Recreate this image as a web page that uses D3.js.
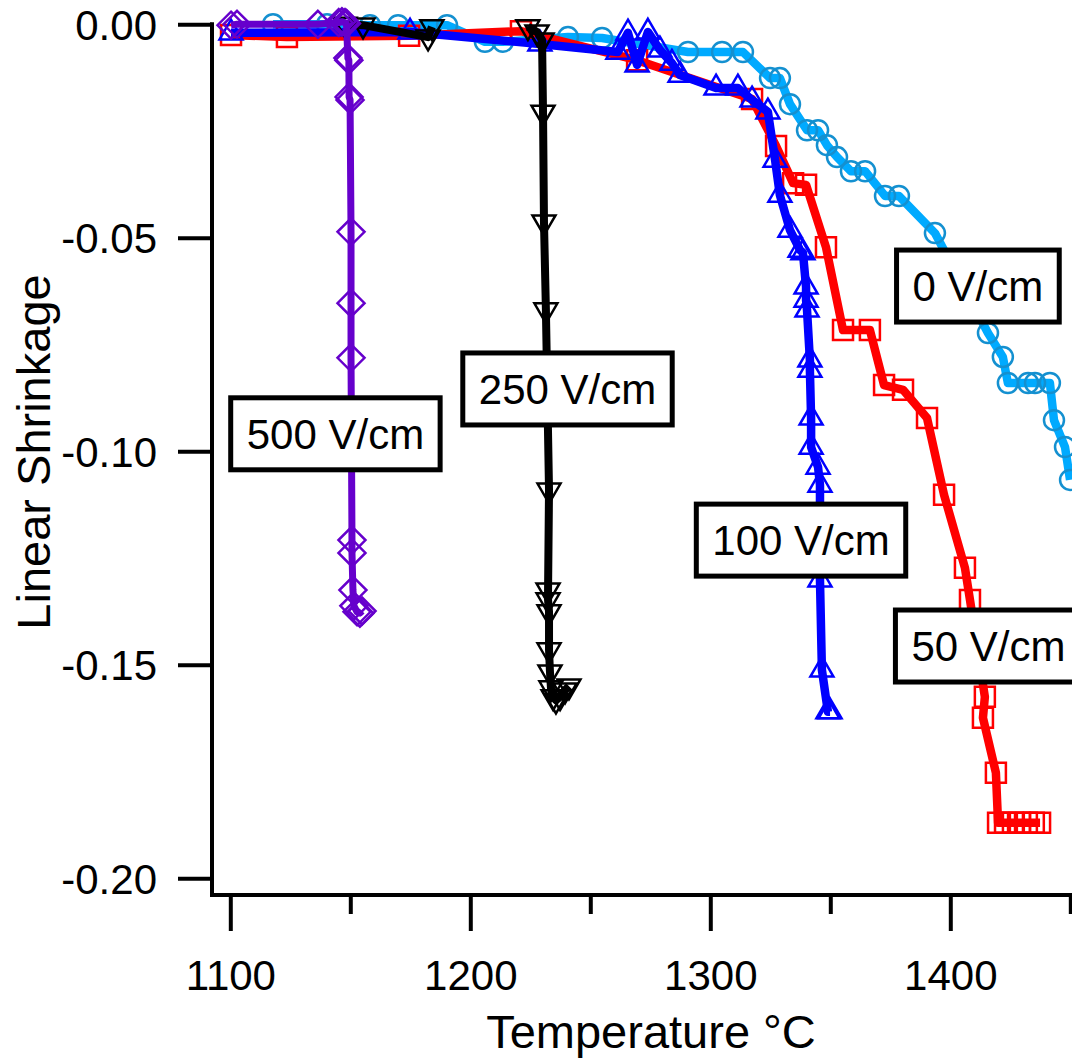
<!DOCTYPE html>
<meta charset="utf-8">
<style>
body { margin: 0; background: #fff; }
svg { display: block; font-family: "Liberation Sans", Arial, sans-serif; }
.axis-line { stroke: #000; stroke-width: 4; }
.tick line { stroke: #000; stroke-width: 4; }
.tick text { font-size: 42px; fill: #000; }
.title { font-size: 47px; fill: #000; }
.series path.line { fill: none; stroke-linejoin: round; stroke-linecap: butt; }
.mark { fill: none; stroke-width: 2.5; }
.label rect { fill: #fff; stroke: #000; stroke-width: 5; }
.label text { font-size: 42px; fill: #000; text-anchor: middle; }
</style>
<svg width="1072" height="1061"></svg>
<script src="https://cdn.jsdelivr.net/npm/d3@7"></script>
<script>

// temperature (°C), linear shrinkage
var v0 = [[1117.8,0],[1140.3,0],[1158.2,-0.0002],[1169.9,-0.0002],[1190.3,-0.0002],[1206.1,-0.0041],[1213.6,-0.0041],
  [1240.7,-0.0030],[1254.9,-0.0032],[1290.7,-0.0065],[1304.9,-0.0065],[1313.6,-0.0065],[1324.9,-0.0126],[1329.0,-0.0126],
  [1333.2,-0.0187],[1340.3,-0.0248],[1344.9,-0.0248],[1348.6,-0.0283],[1352.8,-0.0311],[1358.6,-0.0344],[1364.5,-0.0344],
  [1372.8,-0.0402],[1378.6,-0.0402],[1393.6,-0.0489],[1415.7,-0.0723],[1421.9,-0.0779],[1424.0,-0.0840],[1432.4,-0.0840],
  [1435.3,-0.0840],[1441.5,-0.0840],[1443.2,-0.0927],[1447.8,-0.0990],[1449.9,-0.1067]]

var v50 = [[1100.3,-0.0025],[1123.6,-0.0030],[1174.5,-0.0027],[1221.1,-0.0016],[1269.5,-0.0084],[1317.4,-0.0175],
  [1327.4,-0.0285],[1334.5,-0.0372],[1339.9,-0.0376],[1348.2,-0.0522],[1355.3,-0.0716],[1366.5,-0.0716],[1372.4,-0.0845],
  [1380.3,-0.0856],[1390.3,-0.0922],[1397.4,-0.1102],[1406.1,-0.1273],[1408.2,-0.1348],[1414.4,-0.1575],[1413.6,-0.1624],
  [1419.0,-0.1753],[1419.9,-0.1870],[1422.8,-0.1870],[1426.1,-0.1870],[1429.0,-0.1870],[1431.9,-0.1870],[1434.8,-0.1870],
  [1437.4,-0.1870]]

var v100 = [[1100.3,-0.0020],[1174.9,-0.0018],[1229.0,-0.0046],[1261.5,-0.0065],[1265.7,-0.0020],[1269.5,-0.0095],
  [1274.0,-0.0018],[1279.0,-0.0060],[1284.0,-0.0091],[1287.4,-0.0119],[1302.4,-0.0149],[1311.5,-0.0149],[1317.4,-0.0177],
  [1324.0,-0.0205],[1327.0,-0.0318],[1329.0,-0.0400],[1333.2,-0.0482],[1337.4,-0.0529],[1338.6,-0.0535],[1339.9,-0.0615],
  [1339.9,-0.0646],[1340.3,-0.0669],[1341.5,-0.0786],[1341.5,-0.0810],[1342.0,-0.0922],[1342.0,-0.0990],[1344.9,-0.1037],
  [1345.7,-0.1079],[1345.7,-0.1301],[1346.5,-0.1512],[1349.0,-0.1610],[1349.9,-0.1610]]

var v250 = [[1147.8,0],[1155.3,-0.0002],[1182.4,-0.0030],[1184.0,-0.0006],null,[1224.0,-0.0006],[1227.8,-0.0018],
  [1229.9,-0.0037],[1230.3,-0.0206],[1230.7,-0.0463],[1231.5,-0.0669],[1232.8,-0.1091],[1232.4,-0.1325],[1232.4,-0.1348],
  [1232.8,-0.1376],[1232.8,-0.1465],[1233.2,-0.1517],[1233.6,-0.1554],[1234.5,-0.1575],[1235.7,-0.1583],[1237.4,-0.1575],
  [1239.5,-0.1559],[1241.1,-0.1550]]

var v500 = [[1100.3,-0.0002],[1102.8,0],[1136.5,0],[1145.2,0.0004],[1146.5,0.0006],[1147.8,0.0004],[1148.4,0.0002],
  [1149.0,-0.0079],[1149.4,-0.0084],[1149.5,-0.0170],[1149.9,-0.0177],[1150.3,-0.0486],[1150.3,-0.0653],[1150.3,-0.0781],
  [1150.7,-0.1208],[1150.7,-0.1238],[1151.1,-0.1325],[1151.5,-0.1362],[1152.8,-0.1376],[1154.0,-0.1379],[1154.9,-0.1374]]

var xMajor = [1100, 1200, 1300, 1400]
var xMinor = [1150, 1250, 1350, 1450]
var yTicks = [0, -0.05, -0.10, -0.15, -0.20]

// label text and where its box centre sits (data units)
var labels = [
  {text: "500 V/cm", t: 1143.8, s: -0.0959},
  {text: "250 V/cm", t: 1240.5, s: -0.0854},
  {text: "100 V/cm", t: 1337.8, s: -0.1208},
  {text: "0 V/cm",   t: 1411.5, s: -0.0613},
  {text: "50 V/cm",  t: 1415.9, s: -0.1456}
]

var svg = d3.select("svg")

var x = d3.scaleLinear().domain([1100, 1400]).range([230.3, 950.3])
var y = d3.scaleLinear().domain([0, -0.2]).range([24.3, 878.3])

var axisX = 895, axisY = 212

// axes
svg.append("line").attr("class", "axis-line")
  .attr("x1", axisY - 2).attr("x2", 1072).attr("y1", axisX).attr("y2", axisX)
svg.append("line").attr("class", "axis-line")
  .attr("x1", axisY).attr("x2", axisY).attr("y1", y(0) - 2).attr("y2", axisX)

var gx = svg.append("g").attr("transform", "translate(0," + axisX + ")")
  .call(d3.axisBottom(x).tickValues(xMajor).tickSize(36).tickPadding(29).tickFormat(d3.format("d")))
gx.select(".domain").remove()

var gxm = svg.append("g").attr("transform", "translate(0," + axisX + ")")
  .call(d3.axisBottom(x).tickValues(xMinor).tickSize(19).tickFormat(""))
gxm.select(".domain").remove()

var gy = svg.append("g").attr("transform", "translate(" + axisY + ",0)")
  .call(d3.axisLeft(y).tickValues(yTicks).tickSize(34).tickPadding(21)
    .tickFormat(function(d) { return d.toFixed(2) }))
gy.select(".domain").remove()
gy.selectAll("text").attr("dy", "0.35em")

svg.append("text").attr("class", "title")
  .attr("x", 651).attr("y", 1048).attr("text-anchor", "middle")
  .text("Temperature °C")

svg.append("text").attr("class", "title")
  .attr("transform", "translate(50,452) rotate(-90)").attr("text-anchor", "middle")
  .text("Linear Shrinkage")

// marker shapes, centred on 0,0
var shapes = {
  circle: function() { var r = 10; return "M" + r + ",0A" + r + "," + r + " 0 1,1 " + (-r) + ",0A" + r + "," + r + " 0 1,1 " + r + ",0Z" },
  square: function() { var h = 10; return "M" + -h + "," + -h + "H" + h + "V" + h + "H" + -h + "Z" },
  up: function() { var h = 11.5, k = 6.6; return "M0," + (-2 * k) + "L" + h + "," + k + "L" + -h + "," + k + "Z" },
  down: function() { var h = 11.5, k = 6.6; return "M0," + (2 * k) + "L" + h + "," + -k + "L" + -h + "," + -k + "Z" },
  diamond: function() { var h = 13.5; return "M0," + -h + "L" + h + ",0L0," + h + "L" + -h + ",0Z" }
}

var series = [
  {data: v0,   line: "#00aaff", mark: "#1490d0", width: 8.5, shape: "circle"},
  {data: v50,  line: "#ff0000", mark: "#ff0000", width: 8.5, shape: "square"},
  {data: v100, line: "#0000ff", mark: "#0000ff", width: 8.5, shape: "up"},
  {data: v250, line: "#000000", mark: "#000000", width: 8, shape: "down"},
  {data: v500, line: "#6600cc", mark: "#6600cc", width: 7, shape: "diamond"}
]

var line = d3.line()
  .defined(function(d) { return d !== null })
  .x(function(d) { return x(d[0]) })
  .y(function(d) { return y(d[1]) })

var sg = svg.selectAll(".series").data(series).enter().append("g").attr("class", "series")

sg.append("path").attr("class", "line")
  .attr("d", function(d) { return line(d.data) })
  .attr("stroke", function(d) { return d.line })
  .attr("stroke-width", function(d) { return d.width })

sg.each(function(s) {
  d3.select(this).selectAll(".mark")
    .data(s.data.filter(function(d) { return d !== null }))
    .enter().append("path")
      .attr("class", "mark")
      .attr("stroke", s.mark)
      .attr("transform", function(d) { return "translate(" + x(d[0]) + "," + y(d[1]) + ")" })
      .attr("d", shapes[s.shape])
})

// boxed labels
var lg = svg.selectAll(".label").data(labels).enter().append("g")
  .attr("class", "label")
  .attr("transform", function(d) { return "translate(" + x(d.t) + "," + y(d.s) + ")" })

lg.append("rect")
lg.append("text").attr("y", 15).text(function(d) { return d.text })
lg.each(function() {
  var g = d3.select(this)
  var w = g.select("text").node().getComputedTextLength() + 32
  g.select("rect").attr("x", -w / 2).attr("y", -36).attr("width", w).attr("height", 72)
})

</script>
